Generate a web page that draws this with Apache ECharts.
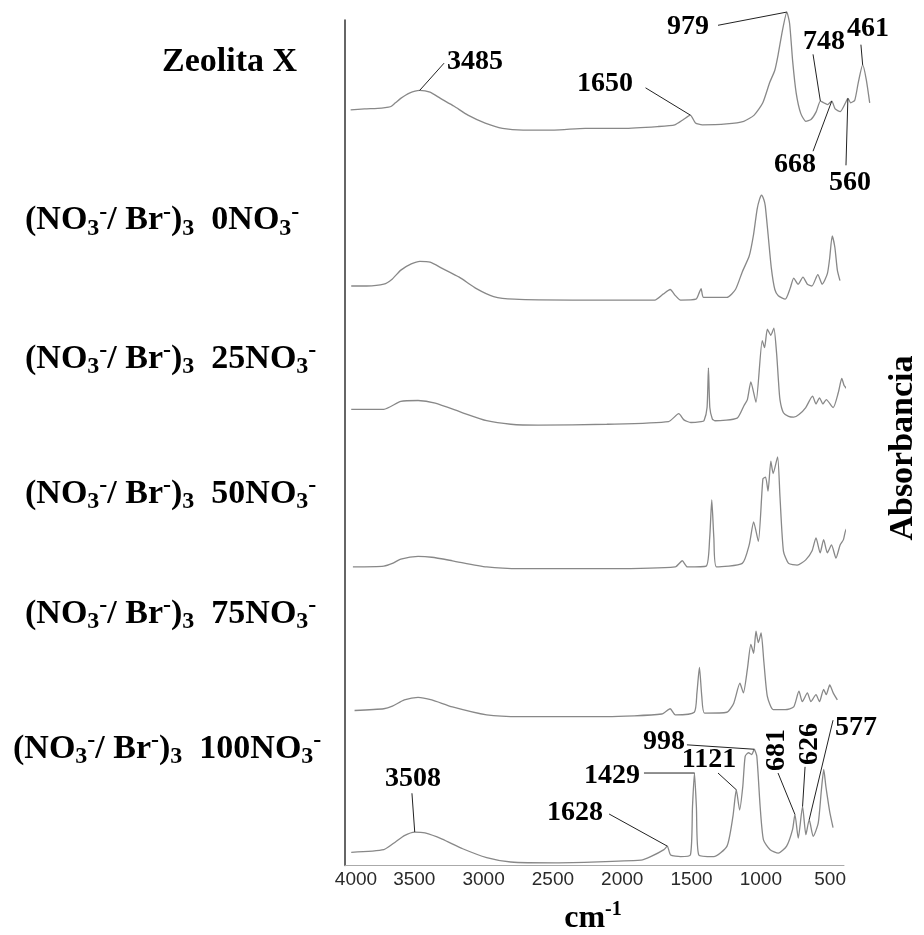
<!DOCTYPE html>
<html>
<head>
<meta charset="utf-8">
<script src="https://cdn.jsdelivr.net/npm/echarts@6/dist/echarts.min.js"></script>
<style>
  html, body { margin: 0; padding: 0; background: #fff; }
  #ir-spectra { width: 924px; height: 935px; }
</style>
</head>
<body>
<div id="ir-spectra"></div>
<script>
// wavenumber ticks (cm-1)
const xTicks = [4000, 3500, 3000, 2500, 2000, 1500, 1000, 500];

// sample names, top to bottom
const sampleNo3 = ['0', '25', '50', '75', '100'];

// spectra: [wavenumber cm-1, absorbance (a.u.) above own baseline]
const zeolitaX = [[3958,2.3],[3863,2.4],[3746,2.5],[3699,2.6],[3680,2.7],[3652,3.1],[3616,3.6],[3557,4.2],[3487,4.5],[3416,4.3],[3345,3.6],[3251,2.7],[3157,1.7],[3039,0.8],[2921,0.2],[2780,0],[2568,0],[2356,0.2],[2097,0.2],[1862,0.4],[1744,0.6],[1685,1.2],[1638,1.7],[1603,0.8],[1556,0.6],[1391,0.7],[1273,1.0],[1202,1.7],[1143,3.1],[1096,5.4],[1061,6.8],[1038,8.6],[1009,11.3],[979,13.4],[960,12.1],[939,7.8],[915,4.2],[884,1.9],[849,1.0],[814,1.2],[778,2.1],[750,3.3],[727,3.1],[701,2.9],[672,3.3],[649,2.4],[614,2.1],[578,3.1],[562,3.6],[543,3.1],[515,3.4],[491,5.4],[461,7.4],[437,5.8],[413,3.1]];

const br0 = [[3955,1.6],[3844,1.6],[3720,1.8],[3658,2.4],[3597,3.4],[3522,4.1],[3460,4.4],[3386,4.3],[3299,3.6],[3176,2.6],[3052,1.3],[2928,0.4],[2780,0.1],[2359,0],[1765,0],[1703,0.7],[1654,1.2],[1616,0.5],[1579,0],[1468,0.1],[1443,0.9],[1431,1.3],[1413,0.3],[1245,0.3],[1183,1.2],[1134,3.2],[1084,5.0],[1052,7.5],[1027,10.3],[1010,11.4],[995,11.9],[978,11.4],[968,10.7],[948,7.5],[924,3.6],[899,1.2],[874,0.5],[824,0.1],[787,1.4],[763,2.5],[731,1.8],[696,2.6],[664,1.8],[631,1.6],[589,2.9],[557,1.8],[520,3.0],[503,4.8],[485,7.3],[466,6.0],[448,3.4],[429,2.2]];

const br25 = [[3955,1.8],[3720,1.8],[3597,2.7],[3473,2.8],[3349,2.5],[3151,1.4],[2978,0.5],[2804,0.1],[2607,0],[2111,0.1],[1666,0.4],[1592,1.3],[1555,0.6],[1505,0.3],[1431,0.4],[1410,0.5],[1388,2.0],[1378,6.5],[1368,2.0],[1350,0.7],[1332,0.5],[1171,0.8],[1122,2.2],[1097,2.9],[1072,4.9],[1035,2.6],[990,9.6],[973,8.8],[953,10.9],[928,10.2],[906,11.0],[886,8.1],[874,5.3],[862,2.9],[837,1.4],[800,1.0],[763,0.9],[725,1.2],[676,2.0],[627,3.3],[602,2.4],[577,3.1],[552,2.4],[528,2.9],[478,2.0],[441,3.7],[416,5.3],[399,4.5],[379,4.1],[354,3.3]];

const br50 = [[3943,0.2],[3720,0.3],[3658,0.6],[3597,1.1],[3473,1.4],[3374,1.3],[3225,0.9],[2978,0.2],[2730,0],[2111,0],[1617,0.2],[1567,0.9],[1530,0.2],[1394,0.3],[1369,3.5],[1354,7.8],[1339,3.5],[1320,0.2],[1134,0.6],[1084,2.7],[1052,5.3],[1018,3.1],[985,10.2],[966,10.4],[948,8.8],[928,12.2],[911,10.8],[879,12.7],[862,8.2],[837,2.0],[800,0.6],[738,0.4],[676,1.0],[631,2.0],[602,3.5],[572,1.8],[547,3.3],[520,1.8],[490,2.7],[458,1.2],[428,2.7],[404,3.3],[384,4.5],[359,3.9],[342,4.5],[317,2.4]];

const br75 = [[3931,0.7],[3720,0.9],[3658,1.2],[3572,1.9],[3473,2.2],[3374,1.9],[3225,1.1],[2978,0.2],[2730,0],[2111,0],[1715,0.3],[1654,0.9],[1617,0.2],[1480,0.5],[1461,2.7],[1443,5.6],[1426,2.3],[1406,0.4],[1245,0.5],[1196,1.5],[1151,3.8],[1126,2.7],[1097,5.4],[1072,8.2],[1052,7.2],[1035,9.7],[1018,8.4],[998,9.5],[978,6.2],[953,2.3],[911,0.8],[824,0.8],[763,1.1],[725,2.9],[701,1.7],[664,2.7],[639,1.7],[602,2.5],[577,1.7],[547,3.1],[528,2.5],[503,3.6],[478,2.7],[448,1.9]];

const br100 = [[3955,1.2],[3720,1.5],[3634,2.4],[3572,3.1],[3497,3.5],[3423,3.4],[3299,2.7],[3151,1.6],[2978,0.6],[2804,0.1],[2483,0],[1864,0.3],[1795,0.7],[1699,1.5],[1675,1.9],[1651,0.9],[1579,0.7],[1508,0.9],[1493,6.4],[1479,10.2],[1465,6.4],[1448,0.9],[1340,0.7],[1244,1.9],[1201,5.3],[1177,8.3],[1153,6.0],[1130,8.7],[1113,12.1],[1089,12.5],[1065,12.3],[1048,12.9],[1029,12.1],[1005,6.4],[981,2.6],[933,1.5],[874,1.1],[814,1.9],[771,3.8],[754,5.5],[730,2.8],[699,6.4],[675,3.2],[651,4.9],[622,3.0],[586,4.5],[563,8.3],[546,10.6],[531,8.7],[517,7.2],[503,5.8],[479,4.0]];

// vertical stacking offset of each spectrum (a.u.)
const offsets = [83.5, 64.2, 50.0, 33.7, 16.9, 0.3];

// peak annotations: band, label position, leader start
const zeoNotes = [
  { text: '3485', peak: 3487, label: [3109, 91.3], from: [3320, 91.1] },
  { text: '1650', peak: 1638, label: [2221, 88.8], from: [1944, 88.3] },
  { text: '979', peak: 979, label: [1654, 95.2], from: [1449, 95.4] },
  { text: '748', peak: 750, label: [725, 93.5], from: [800, 92.1] },
  { text: '461', peak: 461, label: [425, 95.0], from: [473, 93.2] },
  { text: '668', peak: 672, label: [923, 79.6], from: [800, 81.1] },
  { text: '560', peak: 562, label: [547, 77.5], from: [575, 79.5] },
];
const br100Notes = [
  { text: '3508', peak: 3497, label: [3509, 9.9], from: [3517, 8.2] },
  { text: '1628', peak: 1675, label: [2341, 6.0], from: [2095, 5.85] },
  { text: '1429', peak: 1479, label: [2074, 10.2], from: [1843, 10.5] },
  { text: '1121', peak: 1177, label: [1374, 12.0], from: [1309, 10.5] },
  { text: '998', peak: 1048, label: [1699, 14.0], from: [1533, 13.7] },
  { text: '681', peak: 754, label: [883, 13.1], from: [876, 10.5], rotate: 90 },
  { text: '626', peak: 699, label: [645, 13.8], from: [681, 11.2], rotate: 90 },
  { text: '577', peak: 651, label: [313, 15.6], from: [479, 16.5] },
];

const serif = 'Liberation Serif';
const traces = [zeolitaX, br0, br25, br50, br75, br100];

function peakPoint(data, nu, offset) {
  const p = data.reduce((a, b) => (Math.abs(b[0] - nu) < Math.abs(a[0] - nu) ? b : a));
  return [p[0], p[1] + offset];
}

function leaderSeries(notes, data, offset, axis) {
  return notes.map((n) => ({
    type: 'line',
    xAxisIndex: axis,
    yAxisIndex: axis,
    data: [n.from, peakPoint(data, n.peak, offset)],
    symbol: 'none',
    clip: false,
    silent: true,
    lineStyle: { color: '#222', width: 1 },
  }));
}

function noteSeries(notes, axis) {
  return {
    type: 'scatter',
    xAxisIndex: axis,
    yAxisIndex: axis,
    symbolSize: 0,
    clip: false,
    silent: true,
    itemStyle: { opacity: 1 },
    label: {
      show: true,
      position: 'inside',
      formatter: '{b}',
      color: '#000',
      opacity: 1,
      fontFamily: serif,
      fontWeight: 'bold',
      fontSize: 28,
    },
    data: notes.map((n) => ({
      name: n.text,
      value: n.label,
      label: n.rotate ? { rotate: n.rotate } : {},
    })),
  };
}

const rich = {
  m: { fontSize: 34, fontWeight: 'bold', fontFamily: serif, lineHeight: 40, verticalAlign: 'middle', fill: '#000' },
  s: { fontSize: 24, fontWeight: 'bold', fontFamily: serif, lineHeight: 28, verticalAlign: 'bottom', fill: '#000' },
  p: { fontSize: 24, fontWeight: 'bold', fontFamily: serif, lineHeight: 20, verticalAlign: 'top', fill: '#000' },
};

function sampleLabel(n) {
  return '{m|(NO}{s|3}{p|-}{m|/ Br}{p|-}{m|)}{s|3}{m|  ' + n + 'NO}{s|3}{p|-}';
}

const labelPos = [[25, 220.5], [25, 359], [25, 494], [25, 614], [13, 749]];

const graphics = [
  { type: 'text', x: 162, y: 62, style: { text: '{m|Zeolita X}', rich: rich, align: 'left', verticalAlign: 'middle' } },
  ...sampleNo3.map((n, i) => ({
    type: 'text',
    x: labelPos[i][0],
    y: labelPos[i][1],
    style: { text: sampleLabel(n), rich: rich, align: 'left', verticalAlign: 'middle' },
  })),
  {
    type: 'text',
    x: 593,
    y: 919,
    style: {
      text: '{c|cm}{q|-1}',
      align: 'center',
      verticalAlign: 'middle',
      rich: {
        c: { fontSize: 32, fontWeight: 'bold', fontFamily: serif, lineHeight: 38, verticalAlign: 'middle', fill: '#000' },
        q: { fontSize: 20, fontWeight: 'bold', fontFamily: serif, lineHeight: 18, verticalAlign: 'top', fill: '#000' },
      },
    },
  },
  {
    type: 'text',
    x: 903,
    y: 448,
    rotation: Math.PI / 2,
    style: {
      text: 'Absorbancia',
      fontSize: 34,
      fontWeight: 'bold',
      fontFamily: serif,
      fill: '#000',
      align: 'center',
      verticalAlign: 'middle',
    },
  },
];

const chart = echarts.init(document.getElementById('ir-spectra'));

const option = {
  animation: false,
  backgroundColor: '#fff',
  grid: [
    { left: 345, right: 80, top: 20, bottom: 69.5, outerBoundsMode: 'none' },
    { left: 344.5, right: 52.4, top: 20, bottom: 69.5, outerBoundsMode: 'none' },
  ],
  xAxis: [
    {
      type: 'value',
      gridIndex: 0,
      min: 400,
      max: 4000,
      inverse: true,
      axisLine: { show: true, lineStyle: { color: '#aaa', width: 1 } },
      axisTick: { show: false },
      splitLine: { show: false },
      axisLabel: {
        customValues: xTicks,
        margin: 5,
        fontFamily: 'Liberation Sans',
        fontSize: 19,
        color: '#2a2a2a',
        // the 4000 label sits a little right of its tick in the original
        formatter: (v) => (v === 4000 ? '{f|4000}' : String(v)),
        rich: { f: { padding: [0, 0, 0, 22], fontFamily: 'Liberation Sans', fontSize: 19, color: '#2a2a2a' } },
      },
    },
    { type: 'value', gridIndex: 1, min: 400, max: 4000, inverse: true, show: false },
  ],
  yAxis: [
    {
      type: 'value',
      gridIndex: 0,
      min: 0,
      max: 96,
      axisLine: { show: true, lineStyle: { color: '#333', width: 1.5 } },
      axisTick: { show: false },
      axisLabel: { show: false },
      splitLine: { show: false },
    },
    { type: 'value', gridIndex: 1, min: 0, max: 96, show: false },
  ],
  graphic: graphics,
  series: [
    ...traces.map((d, i) => ({
      type: 'line',
      xAxisIndex: i === 0 ? 1 : 0,
      yAxisIndex: i === 0 ? 1 : 0,
      data: d.map((p) => [p[0], p[1] + offsets[i]]),
      symbol: 'none',
      smooth: 0.2,
      clip: false,
      silent: true,
      lineStyle: { color: '#888', width: 1.3 },
    })),
    ...leaderSeries(zeoNotes, zeolitaX, offsets[0], 1),
    ...leaderSeries(br100Notes, br100, offsets[5], 0),
    noteSeries(zeoNotes, 1),
    noteSeries(br100Notes, 0),
  ],
};

chart.setOption(option);
</script>
</body>
</html>
